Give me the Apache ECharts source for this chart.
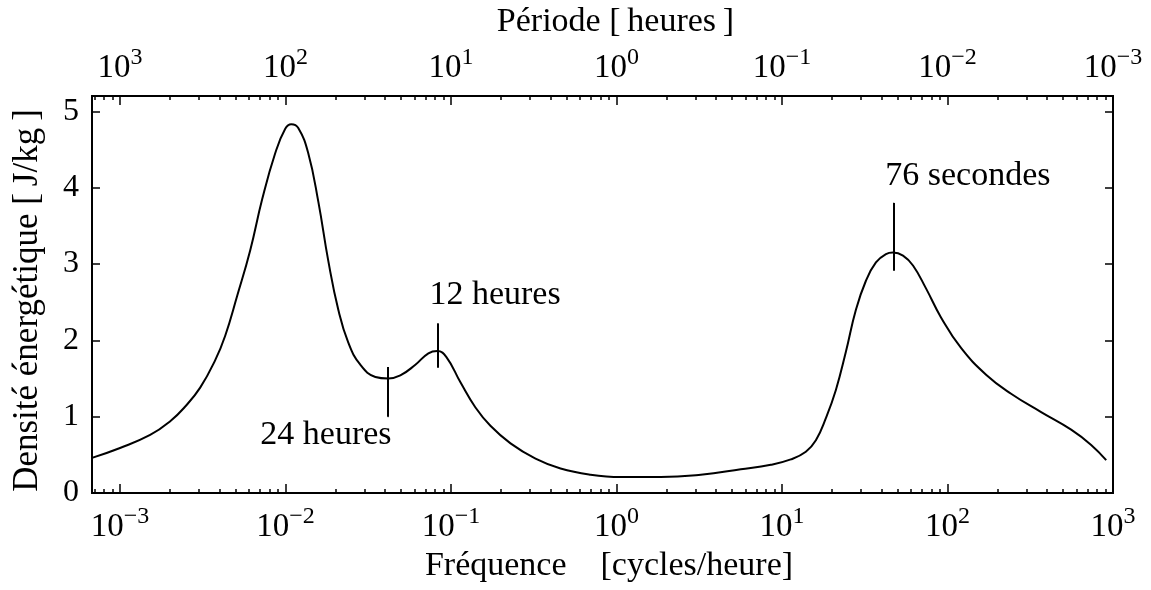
<!DOCTYPE html>
<html>
<head>
<meta charset="utf-8">
<script src="https://cdn.jsdelivr.net/npm/echarts@6/dist/echarts.min.js"></script>
<style>
  html, body { margin: 0; padding: 0; background: #fff; }
  #chart { width: 1151px; height: 590px; }
</style>
</head>
<body>
<div id="chart"></div>
<script>
// fréquence en cycles/heure, densité en J/kg
const freq = [
  6.77e-4, 1e-3, 1.52e-3, 2.01e-3, 2.47e-3, 3.05e-3, 3.76e-3, 4.32e-3, 5.1e-3, 6.12e-3,
  7.23e-3, 8.66e-3, 9.96e-3, 1.083e-2, 1.194e-2, 1.372e-2, 1.577e-2, 1.813e-2, 2.084e-2, 2.395e-2,
  2.83e-2, 3.49e-2, 4.18e-2, 4.94e-2, 6.09e-2, 7.3e-2, 8.27e-2, 9.38e-2, 0.114, 0.1405,
  0.173, 0.2288, 0.324, 0.459, 0.697, 1.059, 1.849, 3.228, 5.634, 8.56,
  11.3, 13.93, 16.02, 18.41, 21.16, 24.32, 27.96, 32.14, 36.94, 42.46, 46.83,
  53.84, 61.87, 74.13, 91.35, 120.7, 171, 242.2, 367.9, 558.6, 738.1, 909.7
]
const energy = [
  0.46, 0.59, 0.76, 0.94, 1.13, 1.38, 1.74, 2.06, 2.58, 3.18,
  3.85, 4.45, 4.77, 4.83, 4.78, 4.45, 3.82, 3.04, 2.4, 1.97,
  1.68, 1.52, 1.5, 1.54, 1.68, 1.83, 1.86, 1.78, 1.45, 1.12,
  0.88, 0.65, 0.45, 0.32, 0.24, 0.21, 0.21, 0.24, 0.31, 0.37,
  0.44, 0.54, 0.69, 0.98, 1.35, 1.85, 2.4, 2.78, 3.02, 3.13, 3.15,
  3.11, 2.98, 2.68, 2.3, 1.9, 1.55, 1.3, 1.06, 0.83, 0.63, 0.43
]

const xMin = 6.77e-4
const xMax = 1000
const decades = [1e-3, 1e-2, 1e-1, 1, 10, 100, 1000]
const minorSteps = [2, 3, 4, 5, 6, 7, 8, 9]
const yTicks = [0, 1, 2, 3, 4, 5]

// repères : 24 h, 12 h, 76 s
const markFreq = [1 / 24, 1 / 12, 3600 / 76]
const markLow = [1.0, 1.64, 2.91]
const markHigh = [1.65, 2.22, 3.8]
const markText = ['24 heures', '12 heures', '76 secondes']

const FONT = 'Liberation Serif'
const BLACK = '#000'

const minorTicks = []
;[1e-4].concat(decades).forEach((d) => {
  minorSteps.forEach((k) => minorTicks.push(Number((k * d).toPrecision(3))))
})

const pow10 = (e) => '{b|10}{s|' + (e < 0 ? '\u2212' + (-e) : e) + '}'
const expRich = {
  b: { fontFamily: FONT, fontSize: 33, lineHeight: 44, color: BLACK },
  s: { fontFamily: FONT, fontSize: 24, lineHeight: 24, verticalAlign: 'top', color: BLACK },
}

const xBase = (position, major) => ({
  type: 'log',
  logBase: 10,
  min: xMin,
  max: xMax,
  position,
  axisLine: { show: true, onZero: false, lineStyle: { color: BLACK, width: 2 } },
  axisTick: {
    show: true,
    inside: true,
    length: major ? 9 : 4,
    customValues: major ? decades : minorTicks,
    lineStyle: { color: BLACK, width: 1.5 },
  },
  axisLabel: { show: false },
  splitLine: { show: false },
  minorTick: { show: false },
  minorSplitLine: { show: false },
})

const bottomMajor = xBase('bottom', true)
bottomMajor.axisLabel = {
  show: true,
  margin: 12,
  customValues: decades,
  formatter: (v) => pow10(Math.round(Math.log10(v))),
  rich: expRich,
}
bottomMajor.name = 'Fréquence    [cycles/heure]'
bottomMajor.nameLocation = 'middle'
bottomMajor.nameGap = 56
bottomMajor.nameMoveOverlap = false
bottomMajor.nameTextStyle = { fontFamily: FONT, fontSize: 34, color: BLACK, padding: [0, 0, 0, 13] }

const topMajor = xBase('top', true)
topMajor.axisLabel = {
  show: true,
  margin: 6,
  customValues: decades,
  formatter: (v) => pow10(-Math.round(Math.log10(v))),
  rich: expRich,
}
topMajor.name = 'Période [\u2009heures\u2009]'
topMajor.nameLocation = 'middle'
topMajor.nameGap = 57
topMajor.nameMoveOverlap = false
topMajor.nameTextStyle = { fontFamily: FONT, fontSize: 34, color: BLACK, padding: [0, 0, 0, 26] }

const yBase = (position) => ({
  type: 'value',
  min: 0,
  max: 5.2,
  position,
  axisLine: { show: true, onZero: false, lineStyle: { color: BLACK, width: 2 } },
  axisTick: {
    show: true,
    inside: true,
    length: 8,
    customValues: yTicks,
    lineStyle: { color: BLACK, width: 1.5 },
  },
  axisLabel: { show: false },
  splitLine: { show: false },
})

const yLeft = yBase('left')
yLeft.axisLabel = {
  show: true,
  margin: 13,
  customValues: yTicks,
  fontFamily: FONT,
  fontSize: 32,
  color: BLACK,
}
yLeft.name = 'Densité énergétique [\u2009J/kg\u2009]'
yLeft.nameLocation = 'middle'
yLeft.nameGap = 47
yLeft.nameMoveOverlap = false
yLeft.nameTextStyle = { fontFamily: FONT, fontSize: 35, color: BLACK, padding: [0, 12, 0, 0] }

// position des textes des repères par rapport au bout du trait
const labelPlace = [
  { position: [4, 19], align: 'right' },
  { position: [-8, -28], align: 'left' },
  { position: [-8, -26], align: 'left' },
]

const chart = echarts.init(document.getElementById('chart'), null, { renderer: 'canvas' })
chart.setOption({
  animation: false,
  backgroundColor: '#fff',
  grid: { left: 92, right: 38, top: 95, bottom: 97, containLabel: false },
  xAxis: [bottomMajor, xBase('bottom', false), topMajor, xBase('top', false)],
  yAxis: [yLeft, yBase('right')],
  series: [
    {
      type: 'line',
      data: freq.map((f, i) => [f, energy[i]]),
      xAxisIndex: 0,
      yAxisIndex: 0,
      smooth: 0.45,
      showSymbol: false,
      symbol: 'none',
      lineStyle: { color: BLACK, width: 2 },
      markLine: {
        silent: true,
        symbol: ['none', 'none'],
        label: { show: false },
        lineStyle: { color: BLACK, width: 2, type: 'solid' },
        data: markFreq.map((f, i) => [
          { coord: [f, markLow[i]] },
          { coord: [f, markHigh[i]] },
        ]),
      },
    },
    {
      type: 'scatter',
      xAxisIndex: 0,
      yAxisIndex: 0,
      symbolSize: 1,
      itemStyle: { color: BLACK, opacity: 1 },
      silent: true,
      data: markFreq.map((f, i) => ({
        value: [f, i === 0 ? markLow[i] : markHigh[i]],
        label: {
          show: true,
          formatter: markText[i],
          position: labelPlace[i].position,
          align: labelPlace[i].align,
          verticalAlign: 'middle',
          fontFamily: FONT,
          fontSize: 34,
          color: BLACK,
          textBorderWidth: 0,
          opacity: 1,
        },
      })),
    },
  ],
})
</script>
</body>
</html>
